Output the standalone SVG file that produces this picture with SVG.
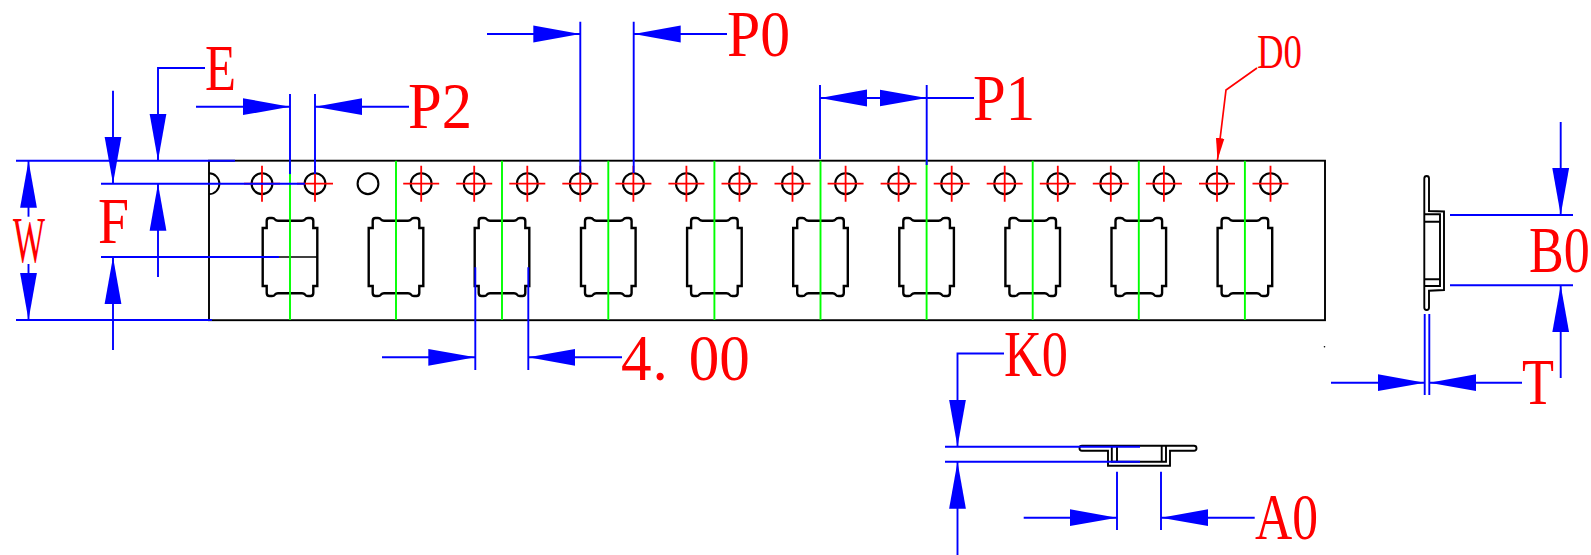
<svg xmlns="http://www.w3.org/2000/svg" xmlns:xlink="http://www.w3.org/1999/xlink" width="1591" height="555" viewBox="0 0 1591 555">
<style>
.k{fill:none;stroke:#000;stroke-width:1.9}
.pk{fill:none;stroke:#000;stroke-width:2.4;stroke-linejoin:miter}
.g{stroke:#00ff00;stroke-width:1.9;fill:none}
.r{stroke:#ff0000;stroke-width:1.8;fill:none}
.b{stroke:#0000ff;stroke-width:1.9;fill:none}
.ba{stroke:#0000ff;stroke-width:1.9;fill:none;marker-end:url(#ah)}
.t{font-family:"Liberation Serif","Times New Roman",serif;font-size:65px;fill:#ff0000}
</style>
<defs>
<marker id="ah" markerUnits="userSpaceOnUse" markerWidth="48" markerHeight="18" refX="47" refY="9" orient="auto" viewBox="0 0 48 18"><path d="M0 .6L47 9L0 17.4Z" fill="#0000ff"/></marker>
<marker id="rh" markerUnits="userSpaceOnUse" markerWidth="24" markerHeight="10" refX="22" refY="5" orient="auto" viewBox="0 0 24 10"><path d="M0 .8L22 5L0 9.2Z" fill="#ff0000"/></marker>
<circle id="c" r="10.4" fill="none" stroke="#000" stroke-width="2.1"/>
<path id="x" d="M-18 0H18M0-18V18" class="r"/>
<g id="h"><use xlink:href="#c" href="#c"/><use xlink:href="#x" href="#x"/></g>
<path id="p" class="pk" d="M-27.3-29H-23.3V-36Q-23.3-39-20.5-39H-18Q-16-39-15-37.6Q-14-36.3-12-36.3H12Q14-36.3 15-37.6Q16-39 18-39H20.5Q23.3-39 23.3-36V-29H27.3V29H23.3V36Q23.3 39 20.5 39H18Q16 39 15 37.6Q14 36.3 12 36.3H-12Q-14 36.3-15 37.6Q-16 39-18 39H-20.5Q-23.3 39-23.3 36V29H-27.3Z"/>
</defs>
<g id="tape">
<rect x="209" y="160.7" width="1116" height="159.5" class="k"/>
<path d="M209 173.3A10.4 10.4 0 0 1 209 194.1" class="k"/>
<circle cx="1324.5" cy="346.7" r="0.8" fill="#000"/>
</g>
<g id="pockets">
<use xlink:href="#p" href="#p" x="290" y="257"/>
<use xlink:href="#p" href="#p" x="396" y="257"/>
<use xlink:href="#p" href="#p" x="502" y="257"/>
<use xlink:href="#p" href="#p" x="608.3" y="257"/>
<use xlink:href="#p" href="#p" x="714.4" y="257"/>
<use xlink:href="#p" href="#p" x="820.5" y="257"/>
<use xlink:href="#p" href="#p" x="926.6" y="257"/>
<use xlink:href="#p" href="#p" x="1032.7" y="257"/>
<use xlink:href="#p" href="#p" x="1138.8" y="257"/>
<use xlink:href="#p" href="#p" x="1244.9" y="257"/>
<path d="M262.7 257H317.3" stroke="#000" stroke-width="1.5" fill="none"/>
</g>
<g id="holes">
<use xlink:href="#h" href="#h" x="262" y="183.7"/>
<use xlink:href="#h" href="#h" x="315" y="183.7"/>
<use xlink:href="#c" href="#c" x="368" y="183.7"/>
<use xlink:href="#h" href="#h" x="421.2" y="183.7"/>
<use xlink:href="#h" href="#h" x="474.2" y="183.7"/>
<use xlink:href="#h" href="#h" x="527.3" y="183.7"/>
<use xlink:href="#h" href="#h" x="580.3" y="183.7"/>
<use xlink:href="#h" href="#h" x="633.4" y="183.7"/>
<use xlink:href="#h" href="#h" x="686.4" y="183.7"/>
<use xlink:href="#h" href="#h" x="739.5" y="183.7"/>
<use xlink:href="#h" href="#h" x="792.5" y="183.7"/>
<use xlink:href="#h" href="#h" x="845.6" y="183.7"/>
<use xlink:href="#h" href="#h" x="898.6" y="183.7"/>
<use xlink:href="#h" href="#h" x="951.7" y="183.7"/>
<use xlink:href="#h" href="#h" x="1004.7" y="183.7"/>
<use xlink:href="#h" href="#h" x="1057.8" y="183.7"/>
<use xlink:href="#h" href="#h" x="1110.8" y="183.7"/>
<use xlink:href="#h" href="#h" x="1163.9" y="183.7"/>
<use xlink:href="#h" href="#h" x="1217" y="183.7"/>
<use xlink:href="#h" href="#h" x="1270.5" y="183.7"/>
</g>
<g id="pitch-lines" class="g">
<path d="M290 160.7V320M396 160.7V320M502 160.7V320M608.3 160.7V320M714.4 160.7V320M820.5 160.7V320M926.6 160.7V320M1032.7 160.7V320M1138.8 160.7V320M1244.9 160.7V320"/>
</g>
<g id="section-a">
<path class="k" d="M1108 450.7H1082Q1079.5 450.7 1079.5 448.2Q1079.5 445.7 1082 445.7H1194Q1196.5 445.7 1196.5 448.2Q1196.5 450.7 1194 450.7H1170V465.7H1108ZM1111.8 446V461.7H1166V446M1117 446V461.7M1161.7 446V461.7"/>
</g>
<g id="section-b">
<path class="k" d="M1424.3 178.5Q1424.3 176 1426.7 176Q1429 176 1429 178.5V211L1444 211.5V290L1429 290.7V307.5Q1429 310 1426.7 310Q1424.3 310 1424.3 307.5ZM1424.3 214.3H1440V286H1424.3M1424.3 221.7H1440M1424.3 279.3H1440"/>
</g>
<g id="connectors">
<path class="b" d="M16 160.7H235M16 320H212M101 183.7H305M101 257H279"/>
<path class="ba" d="M28.5 216.7V160.7"/>
<path class="ba" d="M28.5 264V320"/>
<path class="ba" d="M205 68H158V160.7"/>
<path class="ba" d="M113 90.7V183.7"/>
<path class="ba" d="M158 277V183.7"/>
<path class="ba" d="M113 350V257"/>
<path class="b" d="M290 94V174M315 94V174"/>
<path class="ba" d="M196 106.7H290"/>
<path class="ba" d="M409 106.7H315"/>
<path class="b" d="M580.3 21.7V173M633.7 21.7V173"/>
<path class="ba" d="M487 34H580.3"/>
<path class="ba" d="M727 34H633.7"/>
<path class="b" d="M820 85V159M926.7 85V165"/>
<path class="ba" d="M880 98H820"/>
<path class="ba" d="M867 98H926.7"/>
<path class="b" d="M926.7 98H974"/>
<path class="b" d="M475.3 267.3V370M528.3 267.3V370"/>
<path class="ba" d="M382 357.3H475.3"/>
<path class="ba" d="M622 357.3H528.3"/>
<path class="ba" d="M1004 353.5H957.5V446.7"/>
<path class="b" d="M945 446.7H1140M945 461.7H1140"/>
<path class="ba" d="M957.5 555V461.7"/>
<path class="b" d="M1117 471.7V530M1161 471.7V530"/>
<path class="ba" d="M1023.7 517.7H1117"/>
<path class="ba" d="M1254.7 517.7H1161"/>
<path class="b" d="M1450 215H1573M1450 285.3H1573"/>
<path class="ba" d="M1560.7 122V215"/>
<path class="ba" d="M1560.7 378V285.3"/>
<path class="b" d="M1424.7 314V395M1429.3 314V395"/>
<path class="ba" d="M1331 382.7H1424.7"/>
<path class="ba" d="M1522 382.7H1429.3"/>
<path d="M1257 68L1226 90L1217.5 160" stroke="#ff0000" stroke-width="1.7" fill="none" marker-end="url(#rh)"/>
</g>
<g id="labels" class="t">
<text x="13" y="261.7" textLength="32" lengthAdjust="spacingAndGlyphs">W</text>
<text x="205" y="90" textLength="31" lengthAdjust="spacingAndGlyphs">E</text>
<text x="98" y="242.7" textLength="31" lengthAdjust="spacingAndGlyphs">F</text>
<text x="408" y="128" textLength="64" lengthAdjust="spacingAndGlyphs">P2</text>
<text x="727" y="56" textLength="63" lengthAdjust="spacingAndGlyphs">P0</text>
<text x="973" y="120" textLength="62" lengthAdjust="spacingAndGlyphs">P1</text>
<text transform="translate(621 380) scale(.94 1)" x="0 33.5 72 104.5">4.00</text>
<text x="1004" y="375.7" textLength="64" lengthAdjust="spacingAndGlyphs">K0</text>
<text x="1255" y="539" textLength="63" lengthAdjust="spacingAndGlyphs">A0</text>
<text transform="translate(1529 272) scale(.8 1)">B0</text>
<text x="1522" y="404" textLength="32" lengthAdjust="spacingAndGlyphs">T</text>
<text x="1257" y="68" textLength="45" lengthAdjust="spacingAndGlyphs" style="font-size:48px">D0</text>
</g>
</svg>
